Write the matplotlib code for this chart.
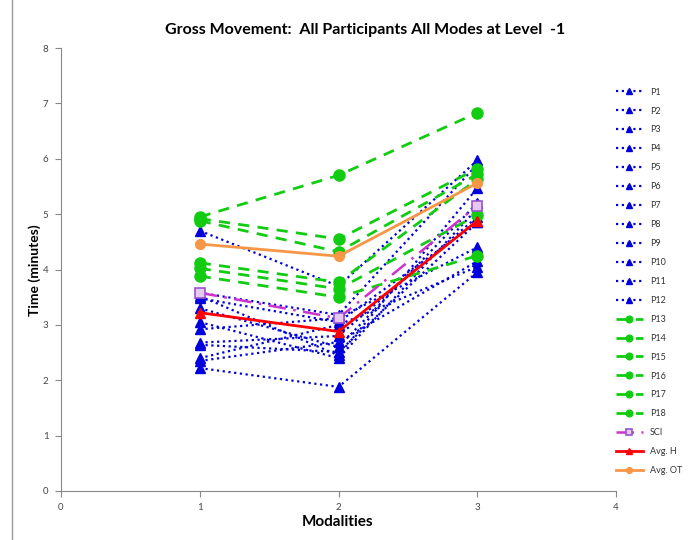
import matplotlib
matplotlib.use("Agg")
import matplotlib.pyplot as plt
from matplotlib.lines import Line2D

plt.rcParams['font.family'] = ['Lato', 'DejaVu Sans']

modalities = [1, 2, 3]

# Hearing-group participants (blue)
p_blue = {
    "P1":  [4.70, 3.70, 5.97],
    "P2":  [3.58, 3.18, 5.90],
    "P3":  [3.52, 2.45, 5.47],
    "P4":  [3.48, 3.05, 4.85],
    "P5":  [3.30, 2.60, 5.20],
    "P6":  [3.05, 2.40, 5.10],
    "P7":  [2.92, 3.12, 4.40],
    "P8":  [2.68, 2.80, 4.95],
    "P9":  [2.64, 2.51, 4.85],
    "P10": [2.40, 3.00, 4.05],
    "P11": [2.35, 2.69, 4.15],
    "P12": [2.22, 1.88, 3.95],
}

# OT-group participants (green)
p_green = {
    "P13": [4.95, 5.70, 6.83],
    "P14": [4.92, 4.55, 5.82],
    "P15": [4.88, 4.32, 5.72],
    "P16": [4.12, 3.77, 5.63],
    "P17": [4.02, 3.65, 4.98],
    "P18": [3.88, 3.50, 4.25],
}

sci = [3.58, 3.12, 5.15]
avg_h = [3.22, 2.88, 4.88]
avg_ot = [4.46, 4.24, 5.56]

W, H = 693, 540
fig = plt.figure(figsize=(W / 100, H / 100), dpi=100)
ax = fig.add_axes([61 / W, 1 - 491 / H, (616 - 61) / W, (491 - 48) / H])

blue = "#0000DD"
green = "#11CC11"
handles = []
for name, vals in p_blue.items():
    h, = ax.plot(modalities, vals, linestyle=(0, (1, 1.6)), color=blue, lw=1.6,
                 marker="^", markersize=7, markerfacecolor=blue,
                 markeredgecolor=blue, label=name)
    handles.append(h)
for name, vals in p_green.items():
    h, = ax.plot(modalities, vals, linestyle=(0, (4, 3)), color=green, lw=2,
                 marker="o", markersize=8, markerfacecolor=green,
                 markeredgecolor=green, label=name)
    handles.append(h)
h, = ax.plot(modalities, sci, linestyle=(0, (7, 3, 1, 3)), color="#CC33CC", lw=1.8,
             marker="s", markersize=7, markerfacecolor="#E6C8F0",
             markeredgecolor="#9955CC", markeredgewidth=1.2, label="SCI")
handles.append(h)
h, = ax.plot(modalities, avg_h, linestyle="-", color="#FF0000", lw=2,
             marker="^", markersize=7, markerfacecolor="#FF0000",
             markeredgecolor="#FF0000", label="Avg. H")
handles.append(h)
h, = ax.plot(modalities, avg_ot, linestyle="-", color="#F79646", lw=2,
             marker="o", markersize=7, markerfacecolor="#F79646",
             markeredgecolor="#F79646", label="Avg. OT")
handles.append(h)

ax.set_xlim(0, 4)
ax.set_ylim(0, 8)
ax.set_xticks(range(0, 5))
ax.set_yticks(range(0, 9))
for s in ["top", "right"]:
    ax.spines[s].set_visible(False)
for s in ["left", "bottom"]:
    ax.spines[s].set_color("#888888")
    ax.spines[s].set_linewidth(0.8)
ax.tick_params(axis="both", colors="#888888", labelcolor="#444444",
               labelsize=7, length=4, width=0.8, pad=5)

fig.text(338 / W, 1 - 522 / H, "Modalities", ha="center", va="center",
         fontsize=11, fontweight="bold")
fig.text(35 / W, 1 - 270 / H, "Time (minutes)", ha="center", va="center",
         rotation=90, fontsize=10, fontweight="bold")
fig.text(365 / W, 1 - 30 / H, "Gross Movement:  All Participants All Modes at Level  -1",
         ha="center", va="center", fontsize=11.5, fontweight="bold")

leg = fig.legend(handles=handles, loc="upper left",
                 bbox_to_anchor=(612 / W, 1 - 84 / H), frameon=False,
                 fontsize=6.5, handlelength=3.0, labelspacing=1.1,
                 handletextpad=0.8, borderaxespad=0, markerscale=0.6)
for t in leg.get_texts():
    t.set_color("#333333")

# chart frame edge on the left
fig.add_artist(Line2D([12 / W, 12 / W], [0, 1], transform=fig.transFigure,
                      color="#999999", lw=1))

fig.savefig("out.png", dpi=100)
